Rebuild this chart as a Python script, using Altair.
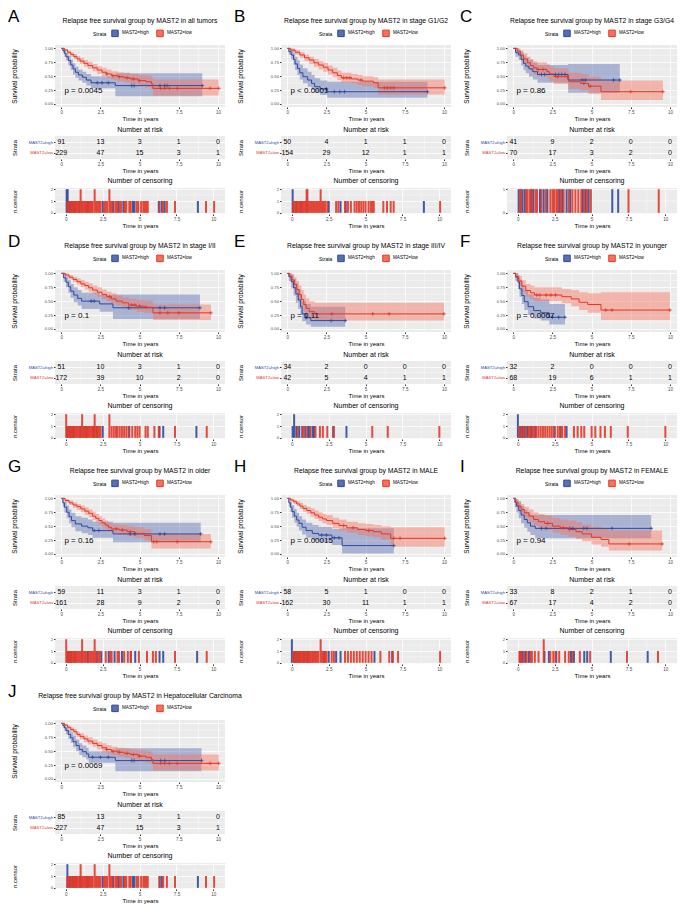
import altair as alt
import pandas as pd
from bisect import bisect_right

FONT = "Liberation Sans"
BLUE = "#2F4A9A"
RED = "#E0382A"
BAND_BLUE = "#5B6DB4"
BAND_RED = "#F7715B"
BG = "#EBEBEB"
STRATA = ["MAST2=high", "MAST2=low"]
KEYS = ["high", "low"]
RISK_TIMES = [0, 2.5, 5, 7.5, 10]
X_MAJOR = [0, 2.5, 5, 7.5, 10]
X_MINOR = [1.25, 3.75, 6.25, 8.75]
SURV_MAJOR = [0.0, 0.25, 0.5, 0.75, 1.0]
SURV_MINOR = [0.125, 0.375, 0.625, 0.875]
LETTERS = ["A", "B", "C", "D", "E", "F", "G", "H", "I", "J"]

# ---------------- Panel A ----------------
A_title = "Relapse free survival group by MAST2 in all tumors"
A_p = "p = 0.0045"
A_risk_high = [91, 13, 3, 1, 0]
A_risk_low = [229, 47, 15, 3, 1]
A_high_time = [0, 0.1, 0.2, 0.3, 0.45, 0.6, 0.75, 0.9, 1.1, 1.35, 1.6, 1.9, 3.45, 9.0]
A_high_surv = [1, 0.96, 0.91, 0.85, 0.78, 0.7, 0.63, 0.57, 0.52, 0.48, 0.43, 0.38, 0.33, 0.33]
A_high_lower = [1, 0.92, 0.85, 0.78, 0.69, 0.61, 0.53, 0.47, 0.42, 0.38, 0.33, 0.28, 0.14, 0.14]
A_high_upper = [1, 1.0, 0.97, 0.93, 0.87, 0.8, 0.73, 0.67, 0.62, 0.58, 0.54, 0.5, 0.55, 0.55]
A_high_marks = [2.3, 2.6, 3.0, 4.5, 4.65, 6.3, 6.6, 6.75, 9.0]
A_high_cens = [0.05, 0.05, 0.12, 0.12, 0.25, 0.4, 0.6, 0.9, 1.45, 2.5, 3.2, 3.55, 3.9, 4.55, 4.65, 6.3, 6.5, 6.7, 8.95]
A_low_time = [0, 0.2, 0.4, 0.6, 0.8, 1.0, 1.2, 1.45, 1.7, 2.0, 2.3, 2.6, 2.9, 3.2, 3.6, 4.0, 4.4, 4.9, 5.4, 5.75, 5.85, 10.05]
A_low_surv = [1, 0.97, 0.93, 0.89, 0.85, 0.81, 0.77, 0.73, 0.69, 0.65, 0.61, 0.57, 0.54, 0.51, 0.49, 0.47, 0.45, 0.42, 0.4, 0.36, 0.28, 0.28]
A_low_lower = [1, 0.95, 0.9, 0.85, 0.81, 0.76, 0.72, 0.67, 0.63, 0.59, 0.54, 0.5, 0.47, 0.44, 0.41, 0.39, 0.36, 0.33, 0.3, 0.25, 0.15, 0.15]
A_low_upper = [1, 0.99, 0.96, 0.93, 0.9, 0.86, 0.83, 0.79, 0.76, 0.72, 0.68, 0.65, 0.62, 0.59, 0.57, 0.56, 0.54, 0.52, 0.51, 0.49, 0.44, 0.44]
A_low_marks = [2.9, 3.3, 3.7, 4.2, 4.6, 5.0, 6.35, 6.6, 6.9, 7.4, 9.5, 10.05]
A_low_cens = [0.1, 0.18, 0.3, 0.38, 0.48, 0.55, 0.65, 0.72, 0.8, 0.9, 1.0, 1.0, 1.08, 1.15, 1.25, 1.32, 1.4, 1.5,
              1.58, 1.65, 1.75, 1.82, 1.95, 1.95, 2.05, 2.15, 2.25, 2.35, 2.6, 2.7, 2.8, 2.95, 2.95, 3.05, 3.15,
              3.35, 3.45, 3.65, 3.75, 4.0, 4.1, 4.3, 4.4, 4.8, 4.9, 5.1, 5.25, 5.35, 5.45, 5.55, 6.35, 6.6, 6.85,
              7.4, 9.5, 10.05]

# ---------------- Panel B ----------------
B_title = "Relapse free survival group by MAST2 in stage G1/G2"
B_p = "p < 0.0001"
B_risk_high = [50, 4, 1, 1, 0]
B_risk_low = [154, 29, 12, 1, 1]
B_high_time = [0, 0.1, 0.25, 0.4, 0.5, 0.65, 0.8, 1.0, 1.3, 1.55, 1.75, 2.1, 2.55, 8.95]
B_high_surv = [1, 0.94, 0.88, 0.8, 0.72, 0.64, 0.56, 0.49, 0.43, 0.37, 0.31, 0.27, 0.22, 0.22]
B_high_lower = [1, 0.88, 0.8, 0.7, 0.61, 0.52, 0.44, 0.37, 0.31, 0.25, 0.2, 0.16, 0.11, 0.11]
B_high_upper = [1, 1.0, 0.97, 0.92, 0.85, 0.78, 0.71, 0.64, 0.58, 0.52, 0.46, 0.42, 0.4, 0.4]
B_high_marks = [2.5, 3.0, 3.35, 3.65, 8.95]
B_high_cens = [0.05, 0.05, 0.3, 0.6, 2.5, 3.3, 3.65, 8.95]
B_low_time = [0, 0.2, 0.5, 0.8, 1.1, 1.4, 1.7, 2.0, 2.3, 2.6, 2.9, 3.2, 3.45, 4.1, 4.5, 4.8, 5.5, 5.8, 10.05]
B_low_surv = [1, 0.97, 0.93, 0.88, 0.83, 0.79, 0.74, 0.7, 0.66, 0.61, 0.56, 0.51, 0.47, 0.45, 0.43, 0.41, 0.38, 0.29, 0.29]
B_low_lower = [1, 0.94, 0.89, 0.83, 0.77, 0.72, 0.67, 0.62, 0.58, 0.53, 0.48, 0.43, 0.39, 0.37, 0.34, 0.32, 0.29, 0.17, 0.17]
B_low_upper = [1, 1.0, 0.97, 0.93, 0.89, 0.85, 0.81, 0.77, 0.74, 0.69, 0.65, 0.6, 0.56, 0.54, 0.52, 0.5, 0.48, 0.44, 0.44]
B_low_marks = [3.6, 3.8, 4.0, 4.7, 6.2, 6.4, 6.6, 6.8, 10.05]
B_low_cens = [0.08, 0.15, 0.25, 0.35, 0.45, 0.55, 0.65, 0.75, 0.85, 0.95, 1.0, 1.0, 1.05, 1.05, 1.15, 1.25, 1.35,
              1.45, 1.55, 1.65, 1.75, 1.85, 1.95, 1.95, 2.05, 2.15, 2.25, 2.4, 3.0, 3.15, 3.6, 3.8, 4.0, 4.25, 4.4,
              4.55, 4.7, 4.85, 5.0, 5.2, 5.35, 5.45, 5.55, 6.2, 6.45, 6.7, 6.9, 10.05]

# ---------------- Panel C ----------------
C_title = "Relapse free survival group by MAST2 in stage G3/G4"
C_p = "p = 0.86"
C_risk_high = [41, 9, 2, 0, 0]
C_risk_low = [70, 17, 3, 2, 0]
C_high_time = [0, 0.15, 0.35, 0.5, 0.65, 0.8, 1.0, 1.25, 1.55, 3.5, 6.8]
C_high_surv = [1, 0.92, 0.88, 0.8, 0.73, 0.68, 0.63, 0.58, 0.53, 0.43, 0.43]
C_high_lower = [1, 0.85, 0.79, 0.69, 0.61, 0.55, 0.49, 0.44, 0.38, 0.2, 0.2]
C_high_upper = [1, 1.0, 0.97, 0.93, 0.87, 0.83, 0.79, 0.74, 0.7, 0.72, 0.72]
C_high_marks = [1.8, 2.0, 2.7, 2.9, 3.1, 3.3, 4.4, 4.6, 6.4, 6.8]
C_high_cens = [0.05, 0.3, 0.45, 0.9, 1.05, 1.5, 1.75, 2.0, 2.8, 3.0, 3.3, 3.55, 4.4, 4.6, 4.8, 6.4, 6.8]
C_low_time = [0, 0.25, 0.45, 0.65, 0.9, 1.1, 1.3, 1.5, 2.15, 2.3, 2.6, 3.5, 3.55, 4.3, 4.8, 5.6, 9.55]
C_low_surv = [1, 0.95, 0.88, 0.81, 0.74, 0.69, 0.65, 0.62, 0.58, 0.54, 0.49, 0.45, 0.4, 0.37, 0.32, 0.22, 0.22]
C_low_lower = [1, 0.9, 0.8, 0.72, 0.64, 0.58, 0.53, 0.5, 0.46, 0.41, 0.36, 0.32, 0.27, 0.24, 0.18, 0.07, 0.07]
C_low_upper = [1, 1.0, 0.96, 0.91, 0.85, 0.81, 0.77, 0.75, 0.72, 0.68, 0.64, 0.6, 0.56, 0.54, 0.49, 0.42, 0.42]
C_low_marks = [1.6, 1.9, 2.8, 3.45, 4.5, 4.9, 7.5, 9.55]
C_low_cens = [0.15, 0.2, 0.55, 0.65, 0.8, 0.95, 1.2, 1.3, 1.6, 1.9, 2.2, 2.35, 2.45, 2.6, 2.7, 2.9, 3.1, 3.45, 3.7,
              3.9, 4.1, 4.3, 4.5, 4.7, 4.95, 7.5, 9.55]

# ---------------- Panel D ----------------
D_title = "Relapse free survival group by MAST2 in stage I/II"
D_p = "p = 0.1"
D_risk_high = [51, 10, 3, 1, 0]
D_risk_low = [172, 39, 10, 2, 0]
D_high_time = [0, 0.15, 0.3, 0.45, 0.6, 0.8, 1.05, 1.3, 2.45, 3.3, 8.85]
D_high_surv = [1, 0.92, 0.84, 0.76, 0.68, 0.61, 0.55, 0.5, 0.45, 0.38, 0.38]
D_high_lower = [1, 0.85, 0.75, 0.65, 0.56, 0.48, 0.42, 0.36, 0.31, 0.18, 0.18]
D_high_upper = [1, 1.0, 0.94, 0.88, 0.81, 0.75, 0.7, 0.65, 0.61, 0.62, 0.62]
D_high_marks = [1.9, 2.1, 4.3, 6.3, 6.6, 8.85]
D_high_cens = [0.08, 0.3, 0.5, 1.0, 1.35, 1.9, 2.1, 2.5, 4.3, 6.35, 6.6, 8.85]
D_low_time = [0, 0.25, 0.5, 0.75, 1.0, 1.25, 1.5, 1.75, 2.0, 2.3, 2.6, 2.9, 3.2, 3.5, 3.9, 4.3, 4.8, 5.3, 5.85, 9.55]
D_low_surv = [1, 0.97, 0.93, 0.89, 0.85, 0.81, 0.78, 0.74, 0.7, 0.66, 0.62, 0.58, 0.54, 0.5, 0.47, 0.43, 0.41, 0.39, 0.29, 0.29]
D_low_lower = [1, 0.94, 0.89, 0.84, 0.8, 0.75, 0.71, 0.67, 0.63, 0.58, 0.54, 0.5, 0.46, 0.42, 0.38, 0.34, 0.31, 0.29, 0.16, 0.16]
D_low_upper = [1, 1.0, 0.97, 0.94, 0.91, 0.88, 0.85, 0.82, 0.78, 0.75, 0.71, 0.67, 0.64, 0.6, 0.57, 0.54, 0.52, 0.51, 0.44, 0.44]
D_low_marks = [3.1, 4.5, 4.7, 5.0, 5.4, 6.3, 6.8, 7.5, 9.55]
D_low_cens = [0.02, 0.02, 0.12, 0.2, 0.28, 0.38, 0.45, 0.55, 0.62, 0.72, 0.8, 0.9, 0.98, 1.1, 1.1, 1.18, 1.25, 1.35,
              1.42, 1.5, 1.6, 1.68, 1.78, 1.85, 1.95, 1.95, 2.05, 2.15, 2.25, 2.35, 2.95, 2.95, 3.1, 3.25, 3.4, 3.5,
              3.65, 3.8, 3.95, 4.1, 4.25, 4.5, 4.7, 4.85, 5.0, 5.4, 5.55, 6.0, 6.3, 7.4, 9.55]

# ---------------- Panel E ----------------
E_title = "Relapse free survival group by MAST2 in stage III/IV"
E_p = "p = 0.11"
E_risk_high = [34, 2, 0, 0, 0]
E_risk_low = [42, 5, 4, 1, 1]
E_high_time = [0, 0.1, 0.25, 0.4, 0.55, 0.7, 0.85, 0.95, 1.2, 1.5, 3.7]
E_high_surv = [1, 0.94, 0.85, 0.74, 0.63, 0.52, 0.4, 0.27, 0.2, 0.15, 0.15]
E_high_lower = [1, 0.86, 0.73, 0.6, 0.47, 0.36, 0.25, 0.14, 0.08, 0.04, 0.04]
E_high_upper = [1, 1.0, 0.98, 0.9, 0.82, 0.72, 0.62, 0.5, 0.45, 0.4, 0.4]
E_high_marks = [1.2, 2.8, 3.7]
E_high_cens = [0.05, 0.15, 0.15, 0.3, 0.5, 0.7, 0.9, 1.1, 1.2, 1.4, 1.5, 2.8, 3.7]
E_low_time = [0, 0.15, 0.3, 0.45, 0.6, 0.75, 0.9, 1.05, 1.2, 1.4, 1.75, 10.0]
E_low_surv = [1, 0.95, 0.88, 0.8, 0.71, 0.62, 0.53, 0.44, 0.37, 0.31, 0.27, 0.27]
E_low_lower = [1, 0.89, 0.79, 0.69, 0.58, 0.49, 0.4, 0.31, 0.25, 0.19, 0.15, 0.15]
E_low_upper = [1, 1.0, 0.98, 0.93, 0.86, 0.78, 0.7, 0.62, 0.55, 0.5, 0.47, 0.47]
E_low_marks = [2.85, 5.45, 6.5, 10.0]
E_low_cens = [0.4, 0.75, 0.95, 1.25, 1.6, 1.9, 2.1, 2.4, 2.85, 5.45, 6.5, 10.0]

# ---------------- Panel F ----------------
F_title = "Relapse free survival group by MAST2 in younger"
F_p = "p = 0.0067"
F_risk_high = [32, 2, 0, 0, 0]
F_risk_low = [68, 19, 6, 1, 1]
F_high_time = [0, 0.15, 0.3, 0.4, 0.55, 0.7, 0.95, 1.3, 1.75, 2.3, 3.3]
F_high_surv = [1, 0.94, 0.84, 0.72, 0.6, 0.49, 0.4, 0.33, 0.29, 0.21, 0.21]
F_high_lower = [1, 0.86, 0.72, 0.58, 0.45, 0.34, 0.25, 0.19, 0.15, 0.08, 0.08]
F_high_upper = [1, 1.0, 0.97, 0.89, 0.79, 0.7, 0.62, 0.56, 0.53, 0.45, 0.45]
F_high_marks = [2.5, 2.9, 3.3]
F_high_cens = [0.0, 0.0, 0.15, 0.3, 0.45, 0.65, 0.9, 1.2, 2.5, 2.9, 3.3]
F_low_time = [0, 0.15, 0.35, 0.55, 0.8, 1.1, 1.35, 3.1, 3.7, 4.2, 4.75, 5.6, 10.0]
F_low_surv = [1, 0.93, 0.86, 0.77, 0.69, 0.65, 0.61, 0.58, 0.54, 0.48, 0.44, 0.34, 0.34]
F_low_lower = [1, 0.87, 0.78, 0.67, 0.58, 0.54, 0.5, 0.46, 0.41, 0.34, 0.29, 0.16, 0.16]
F_low_upper = [1, 1.0, 0.95, 0.88, 0.81, 0.78, 0.75, 0.72, 0.7, 0.66, 0.64, 0.66, 0.66]
F_low_marks = [1.5, 1.7, 2.1, 2.4, 2.7, 5.9, 6.3, 10.0]
F_low_cens = [0.1, 0.25, 0.38, 0.55, 0.75, 0.85, 1.0, 1.1, 1.25, 1.4, 1.55, 1.7, 1.85, 2.0, 2.15, 2.3, 2.45, 2.7,
              2.85, 3.0, 3.2, 3.8, 4.05, 4.3, 4.5, 5.0, 5.25, 5.6, 5.9, 6.3, 7.45, 10.0]

# ---------------- Panel G ----------------
G_title = "Relapse free survival group by MAST2 in older"
G_p = "p = 0.16"
G_risk_high = [59, 11, 3, 1, 0]
G_risk_low = [161, 28, 9, 2, 0]
G_high_time = [0, 0.1, 0.2, 0.35, 0.5, 0.65, 0.9, 1.3, 1.7, 2.0, 3.3, 8.9]
G_high_surv = [1, 0.92, 0.84, 0.75, 0.67, 0.6, 0.54, 0.5, 0.47, 0.42, 0.36, 0.36]
G_high_lower = [1, 0.85, 0.74, 0.64, 0.55, 0.48, 0.41, 0.37, 0.34, 0.29, 0.21, 0.21]
G_high_upper = [1, 1.0, 0.94, 0.87, 0.8, 0.74, 0.68, 0.65, 0.62, 0.58, 0.56, 0.56]
G_high_marks = [2.1, 2.4, 4.4, 4.7, 6.3, 6.6, 8.9]
G_high_cens = [0.15, 0.35, 0.6, 1.5, 2.1, 2.4, 2.9, 3.3, 3.8, 4.4, 4.7, 6.35, 6.6, 8.9]
G_low_time = [0, 0.25, 0.5, 0.75, 1.0, 1.25, 1.5, 1.75, 2.0, 2.2, 2.4, 2.6, 2.8, 3.0, 3.2, 3.7, 4.2, 4.7, 5.3, 5.75, 9.55]
G_low_surv = [1, 0.96, 0.92, 0.88, 0.85, 0.81, 0.77, 0.73, 0.68, 0.64, 0.6, 0.56, 0.52, 0.48, 0.45, 0.43, 0.4, 0.37, 0.33, 0.22, 0.22]
G_low_lower = [1, 0.93, 0.88, 0.83, 0.79, 0.75, 0.7, 0.66, 0.61, 0.57, 0.53, 0.49, 0.45, 0.41, 0.38, 0.35, 0.32, 0.29, 0.24, 0.1, 0.1]
G_low_upper = [1, 0.99, 0.96, 0.93, 0.9, 0.87, 0.84, 0.8, 0.76, 0.72, 0.68, 0.64, 0.6, 0.56, 0.53, 0.52, 0.5, 0.48, 0.45, 0.36, 0.36]
G_low_marks = [3.5, 3.9, 4.4, 5.9, 6.1, 7.4, 9.55]
G_low_cens = [0.02, 0.02, 0.1, 0.2, 0.28, 0.38, 0.45, 0.55, 0.65, 0.75, 0.85, 0.95, 1.05, 1.1, 1.1, 1.2, 1.3, 1.4,
              1.55, 1.65, 1.75, 1.85, 1.95, 1.95, 2.05, 2.2, 2.3, 2.7, 3.0, 3.1, 3.5, 3.6, 3.95, 4.2, 4.4, 4.95,
              5.5, 5.9, 6.1, 7.4, 9.55]

# ---------------- Panel H ----------------
H_title = "Relapse free survival group by MAST2 in MALE"
H_p = "p = 0.00015"
H_risk_high = [58, 5, 1, 0, 0]
H_risk_low = [162, 30, 11, 1, 1]
H_high_time = [0, 0.1, 0.2, 0.3, 0.45, 0.6, 0.75, 0.95, 1.2, 1.6, 2.0, 2.85, 3.5, 6.8]
H_high_surv = [1, 0.92, 0.84, 0.76, 0.68, 0.61, 0.55, 0.48, 0.42, 0.37, 0.34, 0.29, 0.15, 0.15]
H_high_lower = [1, 0.85, 0.75, 0.65, 0.56, 0.49, 0.42, 0.35, 0.29, 0.24, 0.21, 0.16, 0.01, 0.01]
H_high_upper = [1, 1.0, 0.94, 0.88, 0.81, 0.74, 0.68, 0.62, 0.56, 0.52, 0.49, 0.45, 0.46, 0.46]
H_high_marks = [2.2, 2.5, 3.0, 3.3, 6.8]
H_high_cens = [0.0, 0.0, 0.15, 0.3, 0.5, 0.8, 1.1, 2.2, 2.5, 3.0, 3.3, 5.6, 6.8]
H_low_time = [0, 0.2, 0.4, 0.6, 0.8, 1.0, 1.25, 1.5, 1.75, 2.0, 2.25, 2.5, 2.9, 3.3, 3.8, 4.5, 5.0, 5.5, 6.0, 6.6, 10.05]
H_low_surv = [1, 0.97, 0.94, 0.9, 0.86, 0.82, 0.78, 0.74, 0.7, 0.66, 0.63, 0.6, 0.55, 0.51, 0.47, 0.44, 0.42, 0.4, 0.36, 0.28, 0.28]
H_low_lower = [1, 0.94, 0.9, 0.86, 0.81, 0.76, 0.72, 0.67, 0.63, 0.59, 0.55, 0.52, 0.46, 0.42, 0.38, 0.34, 0.32, 0.3, 0.25, 0.13, 0.13]
H_low_upper = [1, 1.0, 0.98, 0.95, 0.92, 0.88, 0.85, 0.82, 0.78, 0.75, 0.72, 0.7, 0.65, 0.62, 0.58, 0.55, 0.54, 0.52, 0.5, 0.48, 0.48]
H_low_marks = [3.6, 4.2, 5.2, 6.8, 7.2, 10.05]
H_low_cens = [0.1, 0.18, 0.25, 0.35, 0.42, 0.5, 0.6, 0.68, 0.78, 0.85, 0.95, 1.02, 1.1, 1.2, 1.28, 1.38, 1.45,
              1.55, 1.62, 1.72, 1.8, 1.95, 1.95, 2.05, 2.15, 2.25, 2.35, 2.7, 2.85, 3.6, 3.8, 4.0, 4.2, 4.4, 4.6,
              4.8, 5.0, 5.2, 5.4, 6.0, 6.6, 6.85, 7.2, 10.05]

# ---------------- Panel I ----------------
I_title = "Relapse free survival group by MAST2 in FEMALE"
I_p = "p = 0.94"
I_risk_high = [33, 8, 2, 1, 0]
I_risk_low = [67, 17, 4, 2, 0]
I_high_time = [0, 0.1, 0.2, 0.35, 0.5, 0.7, 0.9, 1.1, 1.4, 8.8]
I_high_surv = [1, 0.93, 0.86, 0.78, 0.7, 0.62, 0.56, 0.5, 0.46, 0.46]
I_high_lower = [1, 0.84, 0.74, 0.64, 0.55, 0.47, 0.4, 0.34, 0.28, 0.28]
I_high_upper = [1, 1.0, 0.98, 0.93, 0.86, 0.8, 0.75, 0.7, 0.7, 0.7]
I_high_marks = [1.8, 2.1, 3.6, 3.8, 4.5, 4.7, 6.3, 8.8]
I_high_cens = [0.15, 0.3, 0.5, 0.75, 1.8, 2.1, 2.6, 3.6, 3.8, 4.5, 4.7, 6.3, 8.8]
I_low_time = [0, 0.15, 0.3, 0.5, 0.7, 1.0, 1.3, 1.6, 2.0, 2.5, 3.0, 3.5, 4.0, 4.4, 5.0, 5.6, 6.1, 9.5]
I_low_surv = [1, 0.93, 0.86, 0.8, 0.74, 0.68, 0.62, 0.58, 0.55, 0.5, 0.47, 0.44, 0.4, 0.36, 0.3, 0.26, 0.18, 0.18]
I_low_lower = [1, 0.87, 0.78, 0.71, 0.64, 0.57, 0.51, 0.47, 0.43, 0.38, 0.35, 0.31, 0.27, 0.23, 0.17, 0.13, 0.06, 0.06]
I_low_upper = [1, 0.99, 0.95, 0.9, 0.85, 0.8, 0.75, 0.72, 0.69, 0.65, 0.62, 0.6, 0.57, 0.53, 0.49, 0.46, 0.42, 0.42]
I_low_marks = [2.2, 3.2, 3.6, 7.4, 9.5]
I_low_cens = [0.1, 0.22, 0.4, 0.6, 0.85, 0.95, 1.15, 1.4, 1.75, 1.75, 2.2, 2.4, 2.55, 2.8, 3.2, 3.45, 3.7, 4.2,
              4.9, 7.4, 9.5]

# ---------------- Panel J ----------------
J_title = "Relapse free survival group by MAST2 in Hepatocellular Carcinoma"
J_p = "p = 0.0069"
J_risk_high = [85, 13, 3, 1, 0]
J_risk_low = [227, 47, 15, 3, 1]
J_high_time = [0, 0.1, 0.2, 0.3, 0.45, 0.6, 0.75, 0.95, 1.15, 1.35, 1.6, 1.75, 3.45, 8.95]
J_high_surv = [1, 0.96, 0.92, 0.87, 0.8, 0.74, 0.67, 0.6, 0.53, 0.49, 0.45, 0.39, 0.33, 0.33]
J_high_lower = [1, 0.92, 0.86, 0.8, 0.72, 0.65, 0.57, 0.5, 0.43, 0.39, 0.35, 0.29, 0.14, 0.14]
J_high_upper = [1, 1.0, 0.97, 0.94, 0.89, 0.84, 0.78, 0.71, 0.64, 0.6, 0.56, 0.5, 0.55, 0.55]
J_high_marks = [2.0, 2.5, 3.0, 4.5, 4.65, 6.35, 6.6, 8.95]
J_high_cens = [0.1, 0.1, 0.25, 0.45, 0.65, 0.95, 1.45, 2.5, 3.2, 3.55, 3.9, 4.55, 4.65, 6.35, 6.5, 8.95]
J_low_time = [0, 0.2, 0.4, 0.6, 0.8, 1.0, 1.2, 1.45, 1.7, 2.0, 2.3, 2.6, 2.9, 3.2, 3.6, 4.0, 4.4, 4.9, 5.4, 5.75, 5.85, 10.05]
J_low_surv = [1, 0.97, 0.93, 0.89, 0.85, 0.8, 0.76, 0.72, 0.68, 0.64, 0.6, 0.56, 0.53, 0.5, 0.48, 0.46, 0.44, 0.41, 0.39, 0.35, 0.28, 0.28]
J_low_lower = [1, 0.95, 0.9, 0.85, 0.8, 0.75, 0.71, 0.66, 0.62, 0.58, 0.53, 0.49, 0.46, 0.43, 0.4, 0.38, 0.35, 0.32, 0.29, 0.24, 0.15, 0.15]
J_low_upper = [1, 0.99, 0.96, 0.93, 0.9, 0.85, 0.82, 0.78, 0.75, 0.71, 0.67, 0.64, 0.61, 0.58, 0.56, 0.55, 0.53, 0.51, 0.5, 0.48, 0.44, 0.44]
J_low_marks = [2.9, 3.3, 3.7, 4.2, 4.6, 5.0, 6.35, 6.6, 6.9, 7.4, 9.5, 10.05]
J_low_cens = [0.1, 0.18, 0.3, 0.38, 0.48, 0.55, 0.65, 0.72, 0.8, 0.9, 1.0, 1.0, 1.08, 1.15, 1.25, 1.32, 1.4, 1.5,
              1.58, 1.65, 1.75, 1.82, 1.95, 1.95, 2.05, 2.15, 2.25, 2.35, 2.6, 2.7, 2.8, 2.95, 2.95, 3.05, 3.15,
              3.35, 3.45, 3.65, 3.75, 4.0, 4.1, 4.3, 4.4, 4.8, 4.9, 5.1, 5.25, 5.35, 5.45, 5.55, 6.35, 6.6, 6.85,
              7.4, 9.5, 10.05]

# ---------------- layout ----------------
W = 170
H_SURV = 62
H_RISK = 23
H_CENS = 26
X_DOMAIN = [-0.4, 10.45]
TITLE_X = -41
MINOR_W = 0.4

G = globals()


def v(letter, name):
    return G[f"{letter}_{name}"]


X_SCALE = alt.Scale(domain=X_DOMAIN, nice=False, zero=False)
X_AXIS = alt.Axis(values=X_MAJOR, labelExpr="format(datum.value, '~g')", title="Time in years",
                  labelFlush=False, labelOverlap=False)


def x_enc(field):
    return alt.X(f"{field}:Q", scale=X_SCALE, axis=X_AXIS)


def minor_layers(y_scale, y_axis, y_minor):
    """White thin minor gridlines drawn through the chart's own scales."""
    vx = alt.Chart(pd.DataFrame({"m": X_MINOR})).mark_rule(color="white", strokeWidth=MINOR_W).encode(
        x=x_enc("m")
    )
    hy = alt.Chart(pd.DataFrame({"n": y_minor})).mark_rule(color="white", strokeWidth=MINOR_W).encode(
        y=alt.Y("n:Q", scale=y_scale, axis=y_axis)
    )
    return [vx, hy]


def surv_chart(L):
    rows, marks = [], []
    for strata, key in zip(STRATA, KEYS):
        t, s = v(L, f"{key}_time"), v(L, f"{key}_surv")
        lo, hi = v(L, f"{key}_lower"), v(L, f"{key}_upper")
        for i in range(len(t)):
            rows.append({"strata": strata, "time": t[i], "surv": s[i], "lower": lo[i], "upper": hi[i]})
        for m in v(L, f"{key}_marks"):
            idx = max(bisect_right(t, m) - 1, 0)
            marks.append({"strata": strata, "time": m, "surv": s[idx]})
    df = pd.DataFrame(rows)
    mdf = pd.DataFrame(marks)

    y_scale = alt.Scale(domain=[-0.055, 1.06], nice=False, zero=False)
    y_axis = alt.Axis(
        values=SURV_MAJOR, format=".2f", title="Survival probability",
        titleX=TITLE_X, titleBaseline="middle", titleFontSize=6.5, labelOverlap=False, labelBound=False,
    )

    def ye(field):
        return alt.Y(f"{field}:Q", scale=y_scale, axis=y_axis)

    legend = alt.Legend(
        title="Strata", orient="none", legendX=38, legendY=-16, direction="horizontal",
        titleOrient="left", titleFontSize=5, titleFontWeight="normal", titleFont=FONT,
        labelFontSize=4.6, labelFont=FONT, symbolType="square", symbolSize=42,
        symbolStrokeWidth=1, columnPadding=5, labelOffset=3, titlePadding=4,
    )
    fill = alt.Fill("strata:N", scale=alt.Scale(domain=STRATA, range=[BAND_BLUE, BAND_RED]), legend=legend)
    stroke = alt.Stroke("strata:N", scale=alt.Scale(domain=STRATA, range=[BLUE, RED]), legend=legend)

    band = alt.Chart(df).mark_area(interpolate="step-after", fillOpacity=0.45).encode(
        x=x_enc("time"), y=ye("lower"), y2="upper:Q", fill=fill
    )
    line = alt.Chart(df).mark_line(interpolate="step-after", strokeWidth=1).encode(
        x=x_enc("time"), y=ye("surv"), stroke=stroke
    )
    plus = alt.Chart(mdf).mark_point(shape="M-1,0H1M0,-1V1", size=14, strokeWidth=0.8, filled=False, opacity=1).encode(
        x=x_enc("time"), y=ye("surv"), stroke=stroke
    )
    ptext = alt.Chart(pd.DataFrame({"x": [0.2], "y": [0.23], "label": [v(L, "p")]})).mark_text(
        align="left", baseline="middle", fontSize=8, font=FONT, color="black"
    ).encode(x=x_enc("x"), y=ye("y"), text="label:N")
    heads = pd.DataFrame({"letter": [L], "title": [v(L, "title")]})
    letter = alt.Chart(heads).mark_text(
        align="left", baseline="alphabetic", fontSize=17, font=FONT, color="black"
    ).encode(x=alt.value(-47), y=alt.value(-23), text="letter:N")
    title = alt.Chart(heads).mark_text(
        align="center", baseline="alphabetic", fontSize=6.8, font=FONT, color="black"
    ).encode(x=alt.value(W / 2), y=alt.value(-22), text="title:N")

    layers = minor_layers(y_scale, y_axis, SURV_MINOR) + [band, line, plus, ptext, letter, title]
    return alt.layer(*layers).properties(width=W, height=H_SURV)


def risk_chart(L):
    rows = []
    for strata, key, r in zip(STRATA, KEYS, [2, 1]):
        for t, n in zip(RISK_TIMES, v(L, f"risk_{key}")):
            rows.append({"strata": strata, "row": r, "time": t, "n": n})
    df = pd.DataFrame(rows)
    y_scale = alt.Scale(domain=[0.45, 2.55], nice=False, zero=False)
    y_axis = alt.Axis(
        values=[1, 2],
        labelExpr="datum.value == 2 ? 'MAST2=high' : 'MAST2=low'",
        labelColor={"condition": {"test": "datum.value == 2", "value": BLUE}, "value": RED},
        title="Strata", titleX=TITLE_X, titleBaseline="middle", labelFontSize=4.2, labelOverlap=False,
    )
    txt = alt.Chart(df).mark_text(fontSize=7, font=FONT, color="black", baseline="middle").encode(
        x=x_enc("time"), y=alt.Y("row:Q", scale=y_scale, axis=y_axis), text="n:Q",
    )
    layers = minor_layers(y_scale, y_axis, [1.5]) + [txt]
    return alt.layer(*layers).properties(
        width=W, height=H_RISK,
        title=alt.Title("Number at risk", fontSize=7, fontWeight="normal", font=FONT, anchor="middle",
                        frame="group", offset=3, color="black"),
    )


def cens_chart(L):
    rows = []
    for strata, key in zip(STRATA, KEYS):
        for t in v(L, f"{key}_cens"):
            rows.append({"strata": strata, "time": t})
    df = pd.DataFrame(rows)
    ymax = 1 if L == "C" else 2
    majors = [0, 1] if ymax == 1 else [0, 1, 2]
    minors = [0.5] if ymax == 1 else [0.5, 1.5]
    pad = 0.05 * ymax
    y_scale = alt.Scale(domain=[-pad, ymax + pad], nice=False, zero=False)
    y_axis = alt.Axis(values=majors, format="d", title="n.censor", titleX=TITLE_X, titleBaseline="middle",
                      labelOverlap=False)
    bars = alt.Chart(df).mark_bar(size=2, opacity=0.9).encode(
        x=x_enc("time"),
        y=alt.Y("count():Q", stack=None, scale=y_scale, axis=y_axis),
        color=alt.Color("strata:N", scale=alt.Scale(domain=STRATA, range=[BLUE, RED]), legend=None),
    )
    layers = minor_layers(y_scale, y_axis, minors) + [bars]
    return alt.layer(*layers).properties(
        width=W, height=H_CENS,
        title=alt.Title("Number of censoring", fontSize=7, fontWeight="normal", font=FONT, anchor="middle",
                        frame="group", offset=3, color="black"),
    )


IND = dict(fill="independent", stroke="independent", color="independent")


def panel(L):
    return alt.vconcat(surv_chart(L), risk_chart(L), cens_chart(L), spacing=29, bounds="flush").resolve_scale(**IND)


rows = []
for r in range(3):
    rows.append(
        alt.hconcat(*[panel(L) for L in LETTERS[3 * r: 3 * r + 3]], spacing=8).resolve_scale(**IND)
    )
rows.append(panel("J"))

chart = alt.vconcat(*rows, spacing=4).resolve_scale(**IND).properties(padding=0)
chart = chart.configure_view(fill=BG, stroke=None).configure_axis(
    labelFont=FONT, titleFont=FONT, labelFontSize=4.6, titleFontSize=6, titleFontWeight="normal",
    labelColor="#4D4D4D", titleColor="black", gridColor="white", gridWidth=0.8, domain=False, tickSize=1.5,
    tickColor="#333333", labelPadding=1, titlePadding=1.5, labelOverlap=False,
).configure_axisY(labelFontSize=4.2, labelOverlap=False).configure_title(font=FONT, color="black")

chart.save("out.html", embed_options={"renderer": "svg", "actions": False})
